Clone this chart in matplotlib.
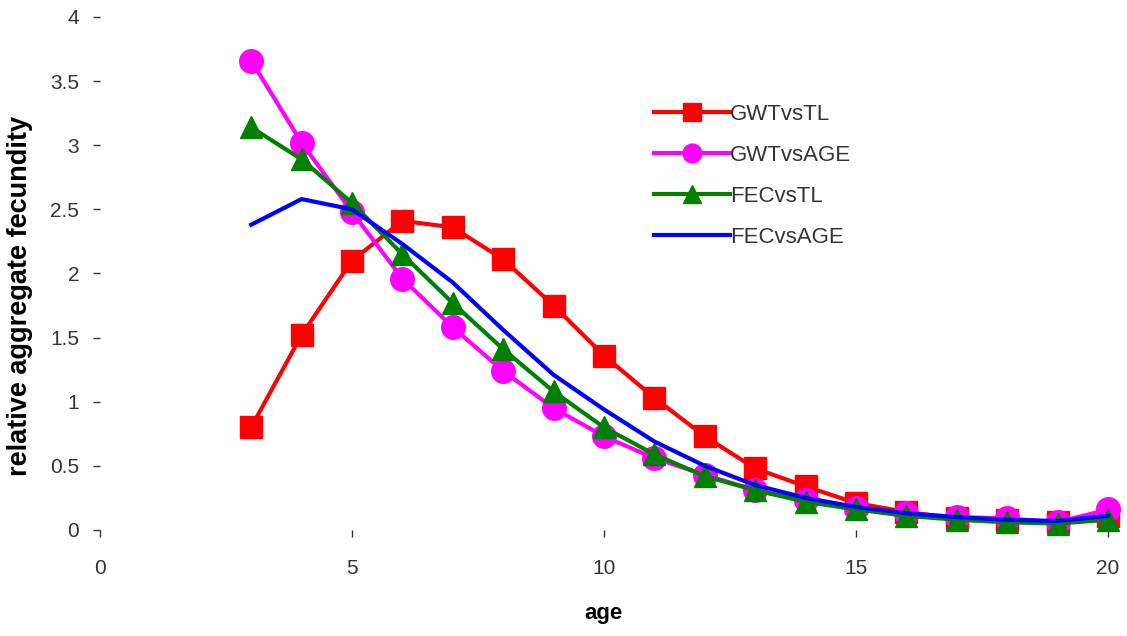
import matplotlib.pyplot as plt

plt.rcParams["font.family"] = ["Liberation Sans", "DejaVu Sans"]

# ages 3..20
age = list(range(3, 21))

gwt_vs_tl = [0.80, 1.52, 2.10, 2.41, 2.36, 2.11, 1.75, 1.36, 1.03, 0.73,
             0.48, 0.34, 0.21, 0.14, 0.09, 0.08, 0.06, 0.11]
gwt_vs_age = [3.66, 3.02, 2.48, 1.96, 1.58, 1.24, 0.95, 0.73, 0.56, 0.43,
              0.31, 0.23, 0.17, 0.13, 0.10, 0.09, 0.06, 0.16]
fec_vs_tl = [3.14, 2.89, 2.55, 2.15, 1.77, 1.41, 1.08, 0.80, 0.59, 0.42,
             0.31, 0.22, 0.16, 0.11, 0.08, 0.06, 0.05, 0.08]
fec_vs_age = [2.38, 2.58, 2.50, 2.23, 1.93, 1.56, 1.21, 0.94, 0.69, 0.50,
              0.35, 0.25, 0.18, 0.13, 0.10, 0.08, 0.07, 0.11]

fig = plt.figure(figsize=(11.27, 6.36), dpi=100)
ax = fig.add_axes([0.0887, 0.1667, 0.8944, 0.8066])

ax.plot(age, gwt_vs_tl, "-s", color="#ff0000", lw=3, ms=16, label="GWTvsTL")
ax.plot(age, gwt_vs_age, "-o", color="#ff00ff", lw=3, ms=17, label="GWTvsAGE")
ax.plot(age, fec_vs_tl, "-^", color="#008000", lw=3, ms=16, label="FECvsTL")
ax.plot(age, fec_vs_age, "-", color="#0000ff", lw=3, label="FECvsAGE")

ax.set_xlim(0, 20)
ax.set_ylim(0, 4)
ax.set_xticks([0, 5, 10, 15, 20])
ax.set_yticks([0, 0.5, 1, 1.5, 2, 2.5, 3, 3.5, 4])
ax.set_yticklabels(["0", "0.5", "1", "1.5", "2", "2.5", "3", "3.5", "4"])
for s in ax.spines.values():
    s.set_visible(False)
ax.tick_params(axis="both", labelsize=15, labelcolor="#333333", color="#333333",
               length=5, width=1)
ax.tick_params(axis="y", pad=10)
ax.tick_params(axis="x", pad=16)
for line in ax.get_lines():
    line.set_clip_on(False)

ax.set_xlabel("age", fontsize=16, fontweight="bold")
ax.set_ylabel("relative aggregate fecundity", fontsize=19.5, fontweight="bold")
ax.xaxis.set_label_coords(0.5, -0.142)
ax.yaxis.set_label_coords(-0.066, 0.456)

ax.legend(loc="upper left", bbox_to_anchor=(0.53, 0.87), frameon=False,
          fontsize=16, handlelength=3.4, handletextpad=0.0, labelspacing=0.9,
          markerscale=0.8, labelcolor="#333333")

fig.savefig("out.png", dpi=100)
